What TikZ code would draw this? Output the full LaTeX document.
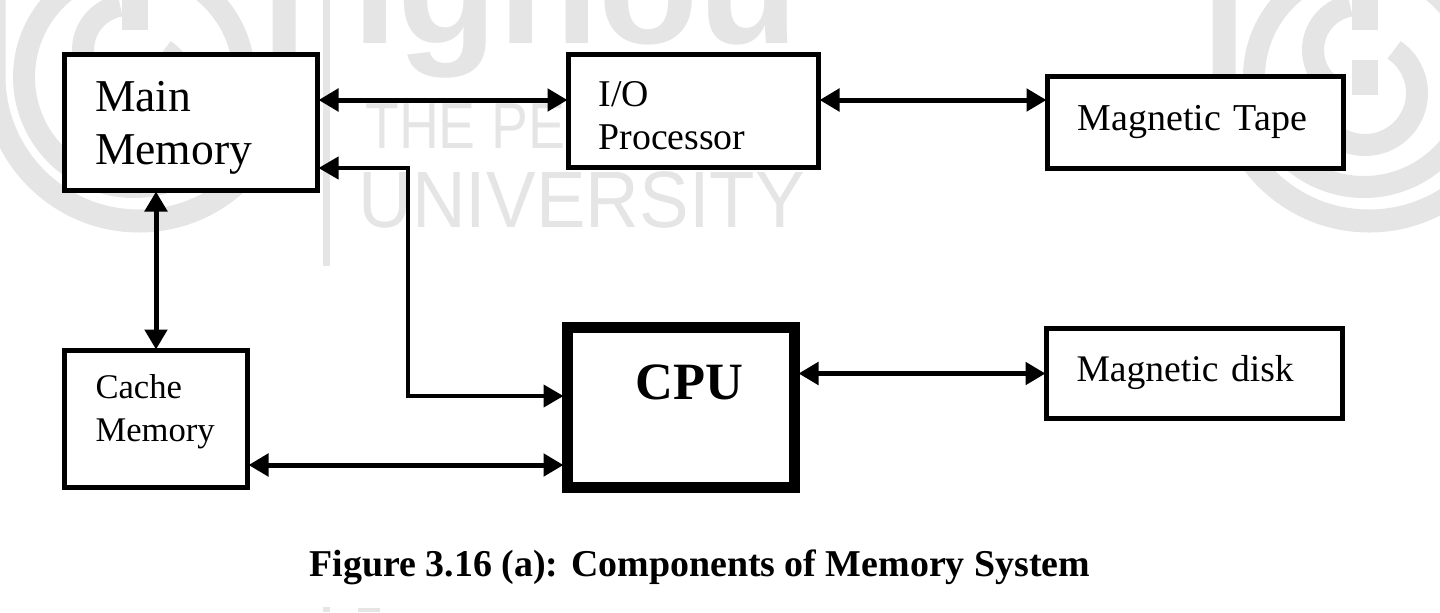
\documentclass[tikz,border=0pt]{standalone}
\usepackage{fontspec}
\setmainfont{Liberation Serif}
\newfontfamily\wmfont{Liberation Sans}
\usetikzlibrary{arrows.meta, positioning}
\definecolor{wmgray}{gray}{0.9}

\begin{document}
\begin{tikzpicture}[
  x=0.5pt, y=-0.5pt,
  >={Triangle[length=10pt, width=11pt]},
  box/.style={draw, fill=white, line width=2.5pt, inner ysep=0pt, align=left},
  thickbox/.style={box, line width=5.5pt},
  link/.style={<->, line width=2.5pt, shorten <=-0.75pt, shorten >=-0.75pt},
  thinlink/.style={link, line width=2pt},
  ring/.style={draw=wmgray, line width=11.5pt},
  wmfill/.style={fill=wmgray, draw=none},
  wmtext/.style={text=wmgray, anchor=base west, inner sep=0pt, font=\wmfont}
]

\useasboundingbox (0,0) rectangle (1440,612);

\begin{scope}
\clip (0,0) rectangle (1440,612);
\foreach \cx in {135,1365} {
  \begin{scope}[shift={(\cx,0)}]
    \draw[ring] (-141,-10) -- (-141,76) arc[start angle=180, end angle=360, radius=72.5pt] -- (149,-10);
    \draw[ring, line width=11pt] (-1,77) circle[radius=55pt];
    \draw[ring, line width=11pt] (-7,50) ++(100:22.5pt) arc[start angle=100, end angle=225, radius=22.5pt];
    \draw[ring, line width=11pt] (0,93) ++(56:26pt) arc[start angle=56, end angle=-160, radius=26pt];
    \fill[wmfill] (-13,-5) rectangle (13,30);
    \fill[wmfill] (-13,60) rectangle (13,95);
  \end{scope}
}
\fill[wmfill] (323,0) rectangle (330,266);
\fill[wmfill] (323,607) rectangle (330,612);
\fill[wmfill] (358,608) rectangle (380,612);
\node[wmtext, font=\wmfont\bfseries\fontsize{82}{82}\selectfont] (wmname) at (352,43) {ignou};
\node[wmtext, font=\wmfont\fontsize{32.5}{32.5}\selectfont, xscale=0.85] (wmline) at (365,148) {THE PE};
\node[wmtext, font=\wmfont\fontsize{40}{40}\selectfont, xscale=0.93] (wmuni) at (358,227) {UNIVERSITY};
\end{scope}

\node[box, anchor=north west, inner xsep=15.25pt, text width=96pt, text height=28.5pt, text depth=39.5pt,
  font=\fontsize{22.8}{26.5}\selectfont] (mainmem) at (62,52) {Main\\Memory};
\node[box, right=123pt of mainmem.north east, anchor=north west, inner xsep=15pt, text width=95pt, text height=25.75pt, text depth=30.75pt,
  font=\fontsize{18.9}{21.75}\selectfont] (iop) {I/O\\Processor};
\node[box, right=112pt of iop.north east, anchor=north west, yshift=-11pt, inner xsep=15pt, text width=118pt, text height=27pt, text depth=19pt,
  font=\fontsize{19}{22}\selectfont] (tape) {Magnetic Tape};
\node[box, below=77.5pt of mainmem.south west, anchor=north west, inner xsep=15.5pt, text width=60.5pt, text height=24pt, text depth=44.5pt,
  font=\fontsize{17.3}{21.5}\selectfont] (cache) {Cache\\Memory};
\node[thickbox, right=156pt of cache.north east, anchor=north west, yshift=13pt, inner xsep=34pt, text width=45.5pt, text height=35.75pt, text depth=44.25pt,
  font=\bfseries\fontsize{26.2}{30}\selectfont] (cpu) {CPU};
\node[box, right=122pt of cpu.north east, anchor=north west, yshift=-2pt, inner xsep=15pt, text width=118pt, text height=26.5pt, text depth=18.5pt,
  font=\fontsize{18.8}{22}\selectfont] (disk) {Magnetic disk};
\node[font=\bfseries\fontsize{18.95}{20}\selectfont] (caption) at (700,567) {Figure 3.16 (a): Components of Memory System};

\coordinate[above=5.5pt of iop.west] (iorow);
\coordinate[above=5.5pt of iop.east] (taperow);
\coordinate[below=22.75pt of mainmem.east] (cpurow);
\coordinate[right=44pt of cpurow] (bus);
\coordinate[above=5.75pt of cpu.west] (businto);
\coordinate[below=23pt of cache.east] (cacherow);

\draw[link] (mainmem.east |- iorow) -- (iorow);
\draw[link] (taperow) -- (taperow -| tape.west);
\draw[link] (cache.north) -- (cache.north |- mainmem.south);
\draw[thinlink] (cpurow) -- (bus) |- (businto);
\draw[link] (cacherow) -- (cacherow -| cpu.west);
\draw[link] (cpu.east |- disk.west) -- (disk.west);
\end{tikzpicture}
\end{document}
